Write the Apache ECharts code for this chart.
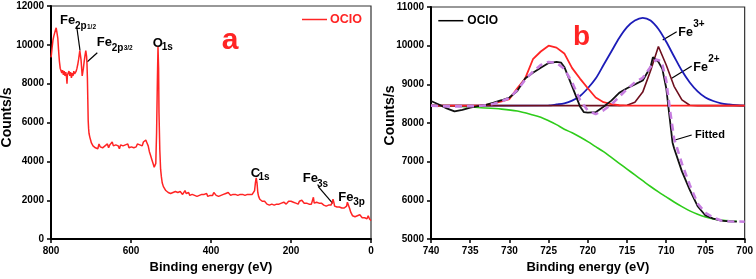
<!DOCTYPE html>
<html>
<head>
<meta charset="utf-8">
<script src="https://cdn.jsdelivr.net/npm/echarts@6/dist/echarts.min.js"></script>
<style>
html,body{margin:0;padding:0;background:#fff;}
#c{width:756px;height:279px;}
</style>
</head>
<body>
<div id="c"></div>
<script>
// ---------- Panel a: XPS survey [binding energy eV, counts/s] ----------
const surveyData = [
[800,9350],[799,9500],[797,9900],[795,10250],[793,10450],[791,10550],[789,10750],[787,10880],[785,10820],[783,10350],
[781,9700],[779,9150],[777,8800],[775,8850],[773,8550],[771,8700],[769,8450],[767,8650],[765,8400],[763,8600],
[761,8300],[760,8000],[759,8450],[757,8350],[755,8650],[753,8400],[751,8600],[749,8300],[747,8550],[745,8400],
[743,8650],[741,8500],[739,8600],[737,8650],[735,8800],[733,9000],[731,9250],[729,9550],[728,9700],[727,9650],
[725,9250],[723,8700],[722,8400],[721,8500],[719,8800],[717,9150],[715,9450],[713,9700],[712,9650],[711,9400],
[710,9000],[709,8300],[708,7200],[707,6100],[706,5700],[705,5450],[703,5250],[701,5100],[699,4950],[697,4850],
[695,4800],[692,4850],[689,4700],[686,4800],[683,4650],[680,4900],[677,4750],[674,4850],[671,4700],[668,4600],
[665,4800],[662,4750],[659,4900],[656,4700],[653,4850],[650,4750],[647,5000],[644,4800],[641,4700],[638,4850],
[635,4750],[632,4800],[629,4650],[626,4850],[623,4750],[620,4800],[617,4700],[614,4850],[611,4750],[608,4900],
[605,4700],[602,4800],[599,4750],[596,4850],[593,4700],[590,4800],[587,4750],[584,4900],[581,4800],[578,4850],
[575,4950],[572,4800],[569,5000],[566,4900],[563,5100],[560,4950],[557,4800],[554,4500],[551,4300],[548,4100],
[545,3900],[542,3700],[540,3600],[538,3900],[536,5500],[534,8200],[532.5,9900],[531,8800],[530,6500],[528,4600],
[526,3600],[524,3200],[522,2900],[519,2700],[516,2600],[513,2500],[510,2550],[507,2400],[504,2500],[501,2350],
[498,2450],[495,2400],[492,2300],[489,2450],[486,2350],[483,2400],[480,2300],[477,2450],[474,2350],[471,2300],
[468,2400],[465,2500],[462,2350],[459,2300],[456,2400],[453,2250],[450,2350],[447,2300],[444,2400],[441,2250],
[438,2350],[435,2200],[432,2300],[429,2250],[426,2350],[423,2300],[420,2200],[417,2300],[414,2250],[411,2350],
[408,2200],[405,2300],[402,2250],[399,2350],[396,2250],[393,2400],[390,2300],[387,2250],[384,2350],[381,2200],
[378,2300],[375,2250],[372,2350],[369,2300],[366,2250],[363,2350],[360,2300],[357,2400],[354,2300],[351,2250],
[348,2350],[345,2300],[342,2400],[339,2300],[336,2350],[333,2250],[330,2350],[327,2300],[324,2400],[321,2300],
[318,2350],[315,2250],[312,2350],[309,2300],[306,2400],[303,2300],[300,2350],[297,2300],[294,2400],[291,2500],
[289,2900],[287,3150],[285,2900],[283,2400],[281,2200],[278,2050],[275,2000],[272,1950],[269,1900],[266,1950],
[263,1850],[260,1800],[257,1900],[254,1750],[251,1850],[248,1800],[245,1900],[242,1750],[239,1850],[236,1800],
[233,1900],[230,1800],[227,1750],[224,1850],[221,1800],[218,1900],[215,1850],[212,1800],[209,1900],[206,1950],
[203,1850],[200,1950],[197,1850],[194,1900],[191,1800],[188,1850],[185,1900],[182,1800],[179,1950],[176,1900],
[173,2000],[170,1900],[167,1850],[164,1950],[161,1850],[158,1900],[155,1800],[152,1850],[149,1800],[146,1850],
[144,2150],[142,1850],[139,1800],[136,1900],[133,1800],[130,1850],[127,1750],[124,1850],[121,1800],[118,1750],
[115,1850],[112,1700],[109,1800],[106,1750],[103,1850],[100,1750],[97,1900],[95,2050],[93,1900],[91,1700],
[88,1600],[85,1650],[82,1550],[79,1650],[76,1550],[73,1600],[70,1500],[67,1600],[64,1550],[61,1700],
[59,1900],[57,1980],[55,1800],[53,1550],[51,1400],[49,1300],[46,1200],[43,1300],[40,1150],[37,1250],
[34,1200],[31,1100],[28,1250],[25,1200],[22,1100],[19,1200],[16,1100],[13,1150],[10,1050],[7,1200],
[4,1050],[2,1000],[0,950]
];

// ---------- Panel b: Fe 2p high-resolution ----------
const ocioData = [
[740,8570],[739,8480],[738,8380],[737,8300],[736,8340],[735,8400],[734,8440],[733,8470],[732,8530],[731,8590],
[730,8660],[729,8830],[728,9150],[727,9300],[726,9430],[725,9550],[724,9580],[723.4,9560],[723,9450],[722,8950],
[721,8430],[720.5,8280],[720,8270],[719,8280],[718,8420],[717,8580],[716,8780],[715,8900],[714,9000],[713,9100],
[712,9450],[711.7,9700],[711,9580],[710.5,9400],[710,8900],[709.6,8200],[709.2,7500],[709,7350],[708,6750],[707,6270],
[706,5850],[705,5610],[704,5530],[703,5480],[702,5460],[701,5450]
];
const fittedData = [
[740,8450],[738,8430],[736,8430],[734,8440],[733,8460],[732,8500],[731,8560],[730,8650],[729,8850],[728,9120],
[727,9330],[726,9500],[725,9580],[724,9560],[723,9400],[722,9050],[721,8600],[720,8320],[719,8230],[718,8330],
[717,8480],[716,8680],[715,8880],[714,9050],[713,9170],[712,9450],[711.3,9640],[710.6,9600],[710,9100],[709.5,8300],
[709,7600],[708,6950],[707,6400],[706,5920],[705,5680],[704,5560],[703,5480],[702,5460],[700,5450]
];
const fe2p12Data = [
[740,8450],[734,8450],[733,8470],[732,8510],[731,8560],[730,8620],[729,8900],[728,9150],[727,9650],[726,9850],
[725,10000],[724,9950],[723,9800],[722,9420],[721,9150],[720,8900],[719,8660],[718,8540],[717,8490],[716,8460],
[715,8450],[700,8450]
];
const fe3Data = [
[740,8450],[725,8455],[724,8480],[723,8510],[722,8580],[721,8700],[720,8900],[719,9150],[718,9500],[717,9850],
[716,10200],[715,10480],[714,10650],[713,10720],[712,10650],[711,10430],[710,10100],[709,9720],[708,9350],[707,9050],
[706,8820],[705,8660],[704,8570],[703,8510],[702,8480],[701,8460],[700,8450]
];
const fe2Data = [
[740,8450],[716,8450],[715,8460],[714,8540],[713,8800],[712,9350],[711,9980],[710,9500],[709,8950],[708,8600],
[707,8460],[706,8450],[700,8450]
];
const backgroundData = [
[740,8460],[737,8440],[734,8400],[731,8360],[729,8310],[727,8210],[726,8150],[725,8060],[724,7960],[723,7840],
[722,7750],[721,7640],[720,7520],[719,7390],[718,7260],[717,7110],[716,6960],[715,6810],[714,6660],[713,6510],
[712,6360],[711,6220],[710,6090],[709,5960],[708,5840],[707,5730],[706,5640],[705,5570],[704,5520],[703,5490],
[702,5470],[701,5460]
];

// ---------- Axis ticks ----------
const surveyXTicks = {min:0, max:800, interval:200};
const surveyYTicks = {min:0, max:12000, interval:2000};
const fineXTicks = {min:700, max:740, interval:5};
const fineYTicks = {min:5000, max:11000, interval:1000};

const FONT = '"Liberation Sans", Arial, Helvetica, sans-serif';
const RED = '#ff2424';
const plain = v => String(v);

function xAx(grid, t, gap){
  return {
    type:'value', gridIndex:grid, inverse:true, min:t.min, max:t.max, interval:t.interval,
    name:'Binding energy (eV)', nameLocation:'middle', nameGap:gap,
    nameTextStyle:{fontFamily:FONT, fontSize:13, fontWeight:'bold', color:'#000'},
    axisLine:{show:true, onZero:false, lineStyle:{color:'#000', width:2}},
    axisTick:{show:true, inside:false, length:4, lineStyle:{color:'#000', width:1.5}},
    axisLabel:{fontFamily:FONT, fontSize:10, fontWeight:'bold', color:'#000', margin:7, formatter:plain},
    splitLine:{show:false}
  };
}
function yAx(grid, t){
  return {
    type:'value', gridIndex:grid, min:t.min, max:t.max, interval:t.interval,
    axisLine:{show:true, onZero:false, lineStyle:{color:'#000', width:2}},
    axisTick:{show:true, inside:false, length:4, lineStyle:{color:'#000', width:1.5}},
    axisLabel:{fontFamily:FONT, fontSize:10, fontWeight:'bold', color:'#000', margin:7, formatter:plain},
    splitLine:{show:false}
  };
}
function line(name, data, xi, color, width, extra){
  return Object.assign({
    name, type:'line', xAxisIndex:xi, yAxisIndex:xi, data, showSymbol:false, symbol:'none',
    animation:false, silent:true, lineStyle:{color, width}
  }, extra||{});
}

function t(x, y, text, size, color, align){
  return {type:'text', x, y, silent:true, style:{text, fontFamily:FONT, fontSize:size, fontWeight:'bold',
    fill:color||'#000', align:align||'left', verticalAlign:'middle'}};
}
function l(x1,y1,x2,y2,color,w){
  return {type:'line', silent:true, shape:{x1,y1,x2,y2}, style:{stroke:color||'#000', lineWidth:w||1.2}};
}
function rt(x, y, text, size){
  return {type:'text', x, y, rotation:Math.PI/2, silent:true, style:{text, fontFamily:FONT, fontSize:size,
    fontWeight:'bold', fill:'#000', align:'center', verticalAlign:'middle'}};
}

const graphics = [
  // panel a
  rt(7.5, 117.5, 'Counts/s', 14),
  l(302, 19.5, 327, 19.5, RED, 1.5),
  t(330, 19.5, 'OCIO', 12.5, RED),
  t(230, 41, 'a', 30, RED, 'center'),
  t(60, 20.5, 'Fe', 13), t(75, 26.5, '2p', 10), t(87, 27, '1/2', 6.5),
  l(76.7, 26.5, 80, 50.5),
  t(96.7, 42, 'Fe', 13), t(111.7, 48, '2p', 10), t(123.7, 48.5, '3/2', 6.5),
  l(97.3, 52.7, 87.3, 61.7),
  t(152.7, 43.5, 'O', 13), t(161.7, 47.5, '1s', 10),
  t(250.7, 173.5, 'C', 13), t(258.5, 177.5, '1s', 10),
  t(302.7, 178.5, 'Fe', 13), t(317, 184, '3s', 10),
  l(318.3, 186.7, 332.7, 203.3),
  t(338.3, 197, 'Fe', 13), t(353.3, 202.5, '3p', 10),
  // panel b
  rt(390, 115.5, 'Counts/s', 14),
  l(438.3, 20.7, 463.3, 20.7, '#000', 1.5),
  t(467.3, 21, 'OCIO', 12),
  t(581.5, 37, 'b', 28, RED, 'center'),
  t(678.3, 32.5, 'Fe', 12.5), t(693.3, 24.5, '3+', 10),
  l(676.7, 31.7, 662.7, 40),
  t(693.3, 67.5, 'Fe', 12.5), t(708.3, 59.7, '2+', 10),
  l(691.7, 66, 671.7, 78.3),
  t(695, 135, 'Fitted', 11),
  l(675, 140, 691.7, 135)
];

const chart = echarts.init(document.getElementById('c'), null, {renderer:'canvas'});
chart.setOption({
  backgroundColor:'#fff',
  animation:false,
  grid:[
    {left:51, top:6, width:320, height:238, show:true, borderColor:'#333', borderWidth:1.2, backgroundColor:'transparent'},
    {left:431, top:7, width:315, height:234, show:true, borderColor:'#333', borderWidth:1.2, backgroundColor:'transparent'}
  ],
  xAxis:[xAx(0, surveyXTicks, 16), xAx(1, fineXTicks, 20)],
  yAxis:[yAx(0, surveyYTicks), yAx(1, fineYTicks)],
  series:[
    line('OCIO survey', surveyData, 0, RED, 1.5),
    line('Background', backgroundData, 1, '#2ecc1a', 1.6, {smooth:0.3}),
    line('Fe3+', fe3Data, 1, '#1c1cb8', 1.8, {smooth:0.3}),
    line('Fe2+', fe2Data, 1, '#6e0f1e', 1.6),
    line('Fe 2p1/2', fe2p12Data, 1, RED, 1.8),
    line('OCIO', ocioData, 1, '#111', 1.8),
    line('Fitted', fittedData, 1, '#c77ee0', 2.6, {lineStyle:{color:'#c77ee0', width:2.6, type:[7,5]}})
  ],
  graphic:graphics
});
</script>
</body>
</html>
